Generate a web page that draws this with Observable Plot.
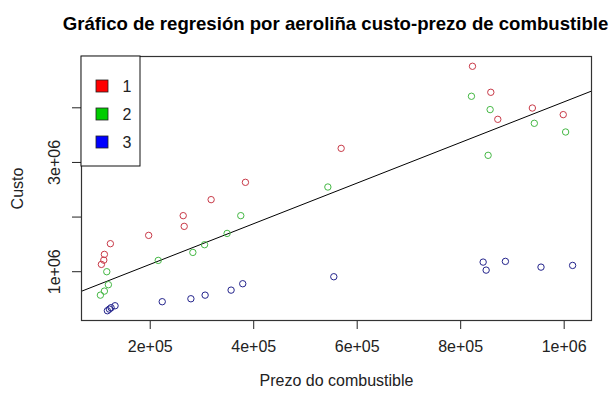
<!DOCTYPE html>
<html>
<head>
<meta charset="utf-8">
<script src="https://cdn.jsdelivr.net/npm/d3@7"></script>
<script src="https://cdn.jsdelivr.net/npm/@observablehq/plot@0.6"></script>
<style>
  html, body { margin: 0; padding: 0; background: #fff; }
  #chart svg { display: block; }
</style>
</head>
<body>
<div id="chart"></div>
<script>
// --- Data ---
const titleText = "Gráfico de regresión por aeroliña custo-prezo de combustible";
const xLabel = "Prezo do combustible";
const yLabel = "Custo";

const groups = ["1", "2", "3"];
const groupColors = ["#ff0000", "#00cd00", "#0000ff"];       // legend swatches
const pointColors = ["#c83a48", "#45b845", "#24248c"];       // point outlines

// Airline 1
const g1x = [105650, 110260, 111430, 123000, 197000, 263750, 265680, 317700, 384000, 569000, 822800, 858200, 871700, 938500, 998200];
const g1y = [1134000, 1212000, 1317000, 1513000, 1665000, 2026000, 1830000, 2319000, 2636000, 3258000, 4760000, 4284000, 3789000, 3996000, 3875000];
// Airline 2
const g2x = [116050, 119150, 111430, 103700, 215500, 282400, 305000, 348600, 375000, 543300, 820800, 856900, 853000, 942300, 1002800];
const g2y = [1000000, 762000, 645000, 571000, 1207000, 1353000, 1494000, 1701000, 2026000, 2550000, 4211000, 3967000, 3130000, 3716000, 3557000];
// Airline 3
const g3x = [117200, 121060, 124340, 132050, 223200, 278600, 306100, 356300, 378800, 554800, 843400, 849200, 886400, 955200, 1016300];
const g3y = [286000, 315000, 341000, 377000, 451000, 505000, 571000, 663000, 780000, 908000, 1176000, 1029000, 1189000, 1084000, 1115000];

// Regression line (abline) coefficients
const intercept = 392800;
const slope = 3.717;

const xTicks = [200000, 400000, 600000, 800000, 1000000];
const xTickLabels = ["2e+05", "4e+05", "6e+05", "8e+05", "1e+06"];
const yTicks = [1000000, 2000000, 3000000, 4000000];
const yTickLabels = ["1e+06", "", "3e+06", ""];

// --- Build table ---
const xs = [g1x, g2x, g3x], ys = [g1y, g2y, g3y];
const points = [];
groups.forEach((g, i) => xs[i].forEach((x, j) => points.push({x, y: ys[i][j], g})));

// R-style 4% axis extension
function rDomain(vals) {
  const [a, b] = d3.extent(vals);
  const e = (b - a) * 0.04;
  return [a - e, b + e];
}
const xDomain = rDomain(points.map(d => d.x));
const yDomain = rDomain(points.map(d => d.y));
const regLine = [{x1: xDomain[0], x2: xDomain[1], y1: intercept + slope * xDomain[0], y2: intercept + slope * xDomain[1]}];

const font = "'Liberation Sans', Arial, sans-serif";
const ml = 81, mt = 56;

const chart = Plot.plot({
  width: 611,
  height: 394,
  marginLeft: ml,
  marginRight: 20,
  marginTop: mt,
  marginBottom: 74,
  style: {fontFamily: font, fontSize: "16px", color: "#222", background: "#fff"},
  x: {domain: xDomain},
  y: {domain: yDomain},
  color: {domain: groups, range: pointColors},
  marks: [
    Plot.axisX({ticks: xTicks, tickFormat: d => xTickLabels[xTicks.indexOf(d)], tickSize: 9, tickPadding: 11, fontSize: 16, label: null, stroke: "#222"}),
    Plot.axisY({ticks: yTicks, tickFormat: () => "", tickSize: 9, label: null, stroke: "#222"}),
    Plot.text(yTicks.map((t, i) => ({t, s: yTickLabels[i]})), {y: "t", text: "s", frameAnchor: "left", textAnchor: "middle", rotate: -90, dx: -27, fontSize: 16, fill: "#222"}),
    Plot.text([yLabel], {frameAnchor: "left", textAnchor: "middle", rotate: -90, dx: -64, fontSize: 16, fill: "#222"}),
    Plot.text([xLabel], {frameAnchor: "bottom", dy: 65, fontSize: 16, fill: "#222"}),
    Plot.text([titleText], {frameAnchor: "top", dy: -40, dx: -1, fontSize: 18.6, fontWeight: "bold", fill: "#000"}),
    Plot.link(regLine, {x1: "x1", x2: "x2", y1: "y1", y2: "y2", stroke: "#000", strokeWidth: 1, clip: true}),
    Plot.dot(points, {x: "x", y: "y", stroke: "g", r: 3.2, strokeWidth: 1}),
    Plot.frame({stroke: "#333", strokeWidth: 1.2})
  ]
});
document.getElementById("chart").appendChild(chart);

// --- R-style legend box at top-left of the plot region ---
const svg = d3.select(chart);
const lg = svg.append("g").attr("transform", `translate(${ml},${mt})`).style("font-family", font);
lg.append("rect").attr("x", 0).attr("y", 0).attr("width", 59).attr("height", 110)
  .attr("fill", "#fff").attr("stroke", "#111").attr("stroke-width", 1);
groups.forEach((g, i) => {
  const cy = 30 + i * 28;
  lg.append("rect").attr("x", 15).attr("y", cy - 6).attr("width", 12).attr("height", 12)
    .attr("fill", groupColors[i]).attr("stroke", "#222").attr("stroke-width", 0.8);
  lg.append("text").attr("x", 46).attr("y", cy).attr("dy", "0.35em").attr("text-anchor", "middle")
    .attr("font-size", 16).attr("fill", "#222").text(g);
});
</script>
</body>
</html>
